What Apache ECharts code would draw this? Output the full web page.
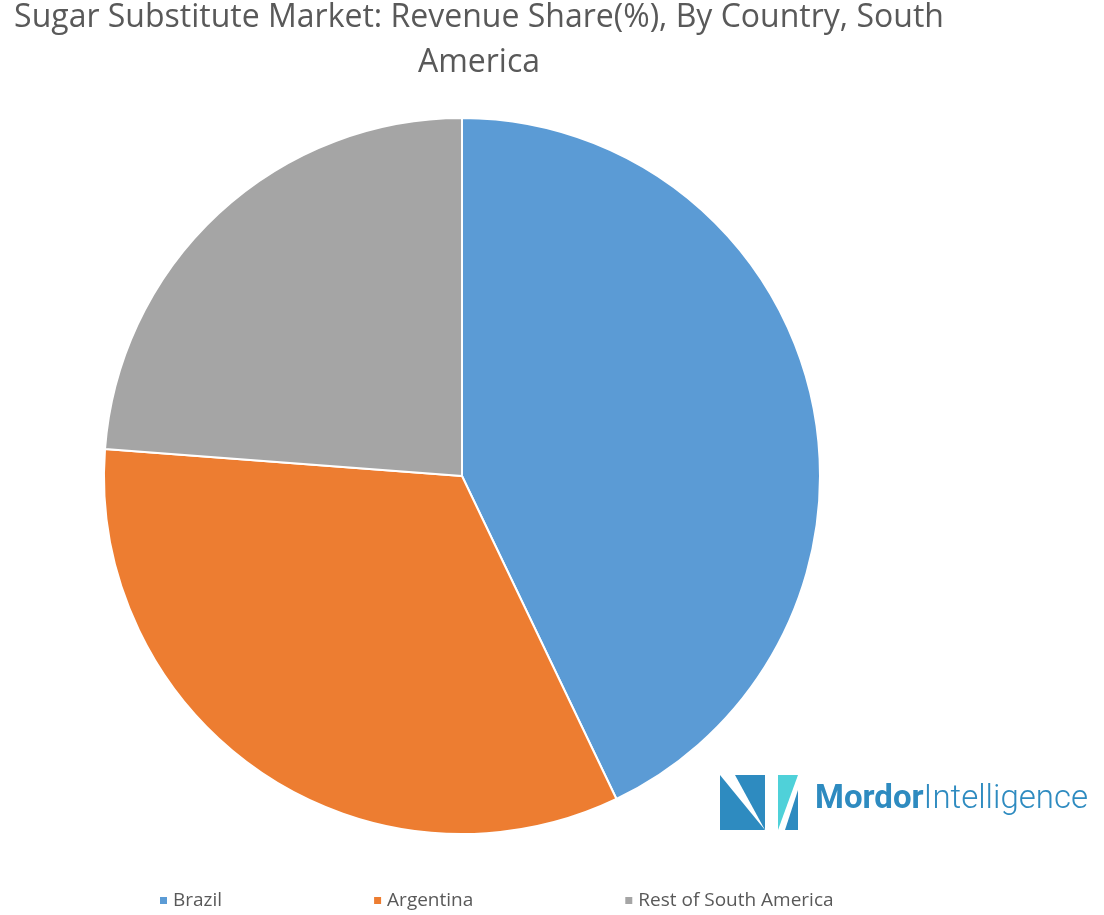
<!DOCTYPE html>
<html><head><meta charset="utf-8">
<script src="https://cdn.jsdelivr.net/npm/echarts@6/dist/echarts.min.js"></script>
<style>html,body{margin:0;padding:0;background:#fff}#c{width:1104px;height:915px}</style>
</head><body><div id="c"></div>
<script>
const categories = ["Brazil", "Argentina", "Rest of South America"];
const values = [42.9, 33.3, 23.8];
const colors = ["#5B9BD5", "#ED7D31", "#A5A5A5"];
const chart = echarts.init(document.getElementById('c'));
chart.setOption({
  animation: false,
  title: {
    text: "Sugar Substitute Market: Revenue Share(%), By Country, South\nAmerica",
    left: 474, top: -10, textAlign: 'center',
    textStyle: {fontFamily: 'Open Sans', fontSize: 32, fontWeight: 'normal', color: '#595959', lineHeight: 45}
  },
  legend: {
    bottom: 0, left: 153, itemWidth: 9, itemHeight: 9, itemGap: 150, icon: 'rect',
    textStyle: {fontFamily: 'Open Sans', fontSize: 19, color: '#595959'},
    data: categories
  },
  series: [{
    type: 'pie', center: [462, 476], radius: 358, startAngle: 90, clockwise: true,
    label: {show: false}, labelLine: {show: false},
    itemStyle: {borderColor: '#fff', borderWidth: 2},
    data: categories.map((n, i) => ({name: n, value: values[i], itemStyle: {color: colors[i]}}))
  }],
  graphic: [
    {type: 'polygon', shape: {points: [[720,830],[720,775],[765,830]]}, style: {fill: '#2E8BC0'}},
    {type: 'polygon', shape: {points: [[735,775],[765,775],[765,830]]}, style: {fill: '#2E8BC0'}},
    {type: 'polygon', shape: {points: [[778,775],[798,775],[778,830]]}, style: {fill: '#4FD1D9'}},
    {type: 'polygon', shape: {points: [[785,830],[798,790],[798,830]]}, style: {fill: '#2E8BC0'}},
    {type: 'text', left: 815, top: 783, style: {
      text: '{b|Mordor}{n|Intelligence}', fill: '#2E8BC0',
      rich: {b: {fontFamily: 'Roboto', fontWeight: 'bold', fontSize: 33, fill: '#2E8BC0'},
             n: {fontFamily: 'Roboto', fontWeight: 300, fontSize: 33, fill: '#2E8BC0'}}}}
  ]
});
</script></body></html>
